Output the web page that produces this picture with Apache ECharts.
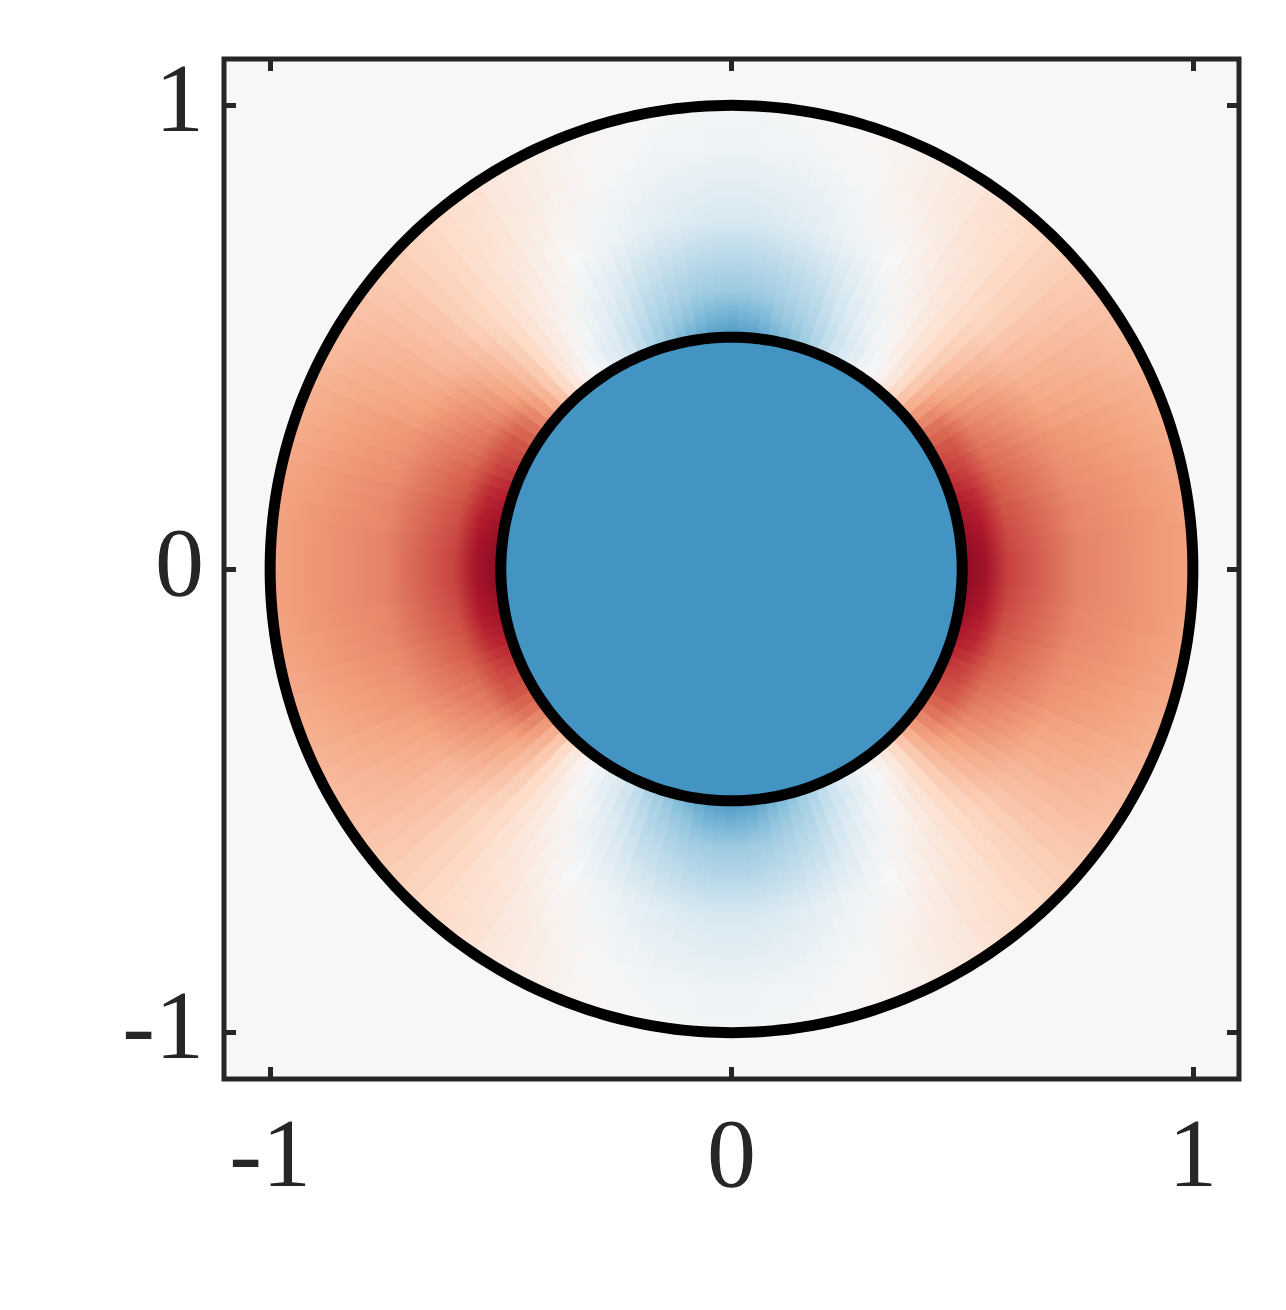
<!DOCTYPE html>
<html>
<head>
<meta charset="utf-8">
<script src="https://cdn.jsdelivr.net/npm/echarts@6/dist/echarts.min.js"></script>
<style>
html,body{margin:0;padding:0;background:#fff;}
#main{width:1286px;height:1310px;}
</style>
</head>
<body>
<div id="main"></div>
<script>
// ticks on both axes
var tickValues=[-1,0,1];
var tickLabels=['-1','0','1'];

// angles (deg, first quadrant, mirrored to the others) and radii of the sampled field
var angleStep=2.5;
var angles=[0,2.5,5,7.5,10,12.5,15,17.5,20,22.5,25,27.5,30,32.5,35,37.5,40,42.5,45,47.5,50,52.5,55,57.5,60,62.5,65,67.5,70,72.5,75,77.5,80,82.5,85,87.5,90];
var radii=[0.5,0.55,0.6,0.75,0.9,1.0];

// field values, one row per radius
var fieldR050=[0.90,0.90,0.89,0.88,0.87,0.85,0.83,0.80,0.77,0.74,0.70,0.67,0.64,0.60,0.56,0.50,0.44,0.37,0.30,0.21,0.12,0.05,-0.01,-0.05,-0.10,-0.15,-0.21,-0.26,-0.32,-0.37,-0.42,-0.46,-0.50,-0.53,-0.56,-0.57,-0.58];
var fieldR055=[0.84,0.84,0.83,0.82,0.80,0.78,0.76,0.74,0.71,0.68,0.66,0.64,0.62,0.58,0.54,0.48,0.42,0.35,0.27,0.19,0.10,0.04,-0.02,-0.06,-0.11,-0.15,-0.20,-0.24,-0.28,-0.32,-0.35,-0.38,-0.41,-0.44,-0.46,-0.47,-0.48];
var fieldR060=[0.68,0.68,0.67,0.66,0.65,0.64,0.62,0.61,0.59,0.57,0.55,0.53,0.51,0.48,0.45,0.41,0.37,0.32,0.26,0.20,0.13,0.07,0.02,-0.02,-0.06,-0.10,-0.14,-0.19,-0.23,-0.27,-0.29,-0.31,-0.33,-0.35,-0.36,-0.37,-0.37];
var fieldR075=[0.50,0.50,0.50,0.49,0.49,0.48,0.47,0.46,0.45,0.44,0.42,0.40,0.38,0.36,0.33,0.31,0.28,0.25,0.22,0.19,0.15,0.12,0.09,0.06,0.03,0.00,-0.02,-0.04,-0.06,-0.08,-0.10,-0.12,-0.13,-0.15,-0.16,-0.17,-0.17];
var fieldR090=[0.44,0.44,0.44,0.44,0.43,0.43,0.42,0.41,0.40,0.39,0.37,0.36,0.34,0.33,0.31,0.29,0.27,0.25,0.23,0.21,0.18,0.16,0.14,0.11,0.09,0.07,0.05,0.03,0.01,-0.01,-0.02,-0.03,-0.04,-0.05,-0.05,-0.06,-0.06];
var fieldR100=[0.41,0.41,0.41,0.40,0.40,0.39,0.38,0.37,0.36,0.35,0.34,0.32,0.31,0.30,0.29,0.27,0.26,0.25,0.23,0.21,0.19,0.17,0.15,0.12,0.10,0.08,0.06,0.04,0.03,0.02,0.01,0.00,-0.01,-0.02,-0.02,-0.03,-0.03];
var fieldRows=[fieldR050,fieldR055,fieldR060,fieldR075,fieldR090,fieldR100];

// inner cylinder and outer wall
var circleRadii=[0.5,1.0];
var innerDiskValue=-0.6;

var rdbu=['#053061','#2166ac','#4393c3','#92c5de','#d1e5f0','#f7f7f7','#fddbc7','#f4a582','#d6604d','#b2182b','#67001f'];

function hexToRgb(h){
    return [parseInt(h.substr(1,2),16),parseInt(h.substr(3,2),16),parseInt(h.substr(5,2),16)];
}
function valueColor(v){
    v=Math.max(-1,Math.min(1,v));
    var p=(v+1)/2*(rdbu.length-1);
    var i=Math.min(Math.floor(p),rdbu.length-2);
    var t=p-i;
    var a=hexToRgb(rdbu[i]),b=hexToRgb(rdbu[i+1]);
    return 'rgb('+Math.round(a[0]+(b[0]-a[0])*t)+','+Math.round(a[1]+(b[1]-a[1])*t)+','+Math.round(a[2]+(b[2]-a[2])*t)+')';
}

// one sector per sampled angle, mirrored round the full circle
var sectorData=[];
for(var a=0;a<360;a+=angleStep){
    var f=a%180;
    if(f>90) f=180-f;
    var idx=Math.round(f/angleStep);
    sectorData.push([0,0,a].concat(fieldRows.map(function(row){return row[idx];})));
}

function renderSector(params,api){
    var th=api.value(2);
    var c=api.coord([0,0]);
    var s=api.size([1,1]);
    var R=(s[0]+s[1])/2;
    var half=angleStep/2+0.15;
    var r0=radii[0],r1=radii[radii.length-1];
    var pts=[],k,ang;
    for(k=0;k<=4;k++){
        ang=(th-half+k*2*half/4)*Math.PI/180;
        pts.push(api.coord([r1*1.01*Math.cos(ang),r1*1.01*Math.sin(ang)]));
    }
    for(k=4;k>=0;k--){
        ang=(th-half+k*2*half/4)*Math.PI/180;
        pts.push(api.coord([r0*0.98*Math.cos(ang),r0*0.98*Math.sin(ang)]));
    }
    var stops=radii.map(function(r,i){
        return {offset:r/r1,color:valueColor(api.value(3+i))};
    });
    var grad=new echarts.graphic.RadialGradient(c[0],c[1],R,stops,true);
    return {
        type:'polygon',
        shape:{points:pts},
        style:{fill:grad,stroke:grad,lineWidth:1}
    };
}

function renderCircle(params,api){
    var r=api.value(2);
    var pts=[];
    for(var k=0;k<360;k++){
        var ang=k*Math.PI/180;
        pts.push(api.coord([r*Math.cos(ang),r*Math.sin(ang)]));
    }
    var isDisk=params.dataIndex===0;
    return {
        type:'polygon',
        shape:{points:pts},
        style:{fill:isDisk?valueColor(innerDiskValue):'none',stroke:'#000',lineWidth:11}
    };
}

var labelStyle={
    fontFamily:'Liberation Serif',
    fontSize:98,
    color:'#262626'
};

function makeAxis(pos,showLabel,margin){
    return {
        type:'value',
        position:pos,
        min:-1.1,
        max:1.1,
        axisLine:{show:false,onZero:false},
        splitLine:{show:false},
        axisTick:{show:true,inside:true,length:12,customValues:tickValues,lineStyle:{color:'#262626',width:5}},
        axisLabel:{
            show:showLabel,
            customValues:tickValues,
            margin:margin,
            fontFamily:labelStyle.fontFamily,
            fontSize:labelStyle.fontSize,
            color:labelStyle.color,
            formatter:function(v){
                var i=tickValues.indexOf(Math.round(v));
                return i>=0?tickLabels[i]:'';
            }
        }
    };
}

var myChart=echarts.init(document.getElementById('main'));
var option={
    animation:false,
    backgroundColor:'#ffffff',
    grid:{
        left:224,top:59,right:47,bottom:231,
        show:true,backgroundColor:'#f7f7f7',borderColor:'#262626',borderWidth:5
    },
    xAxis:[makeAxis('bottom',true,32),makeAxis('top',false,8)],
    yAxis:[makeAxis('left',true,20),makeAxis('right',false,8)],
    series:[
        {
            type:'custom',
            coordinateSystem:'cartesian2d',
            renderItem:renderSector,
            encode:{x:0,y:1},
            data:sectorData,
            z:2
        },
        {
            type:'custom',
            coordinateSystem:'cartesian2d',
            renderItem:renderCircle,
            encode:{x:0,y:1},
            data:circleRadii.map(function(r){return [0,0,r];}),
            z:3
        }
    ]
};
myChart.setOption(option);
</script>
</body>
</html>
